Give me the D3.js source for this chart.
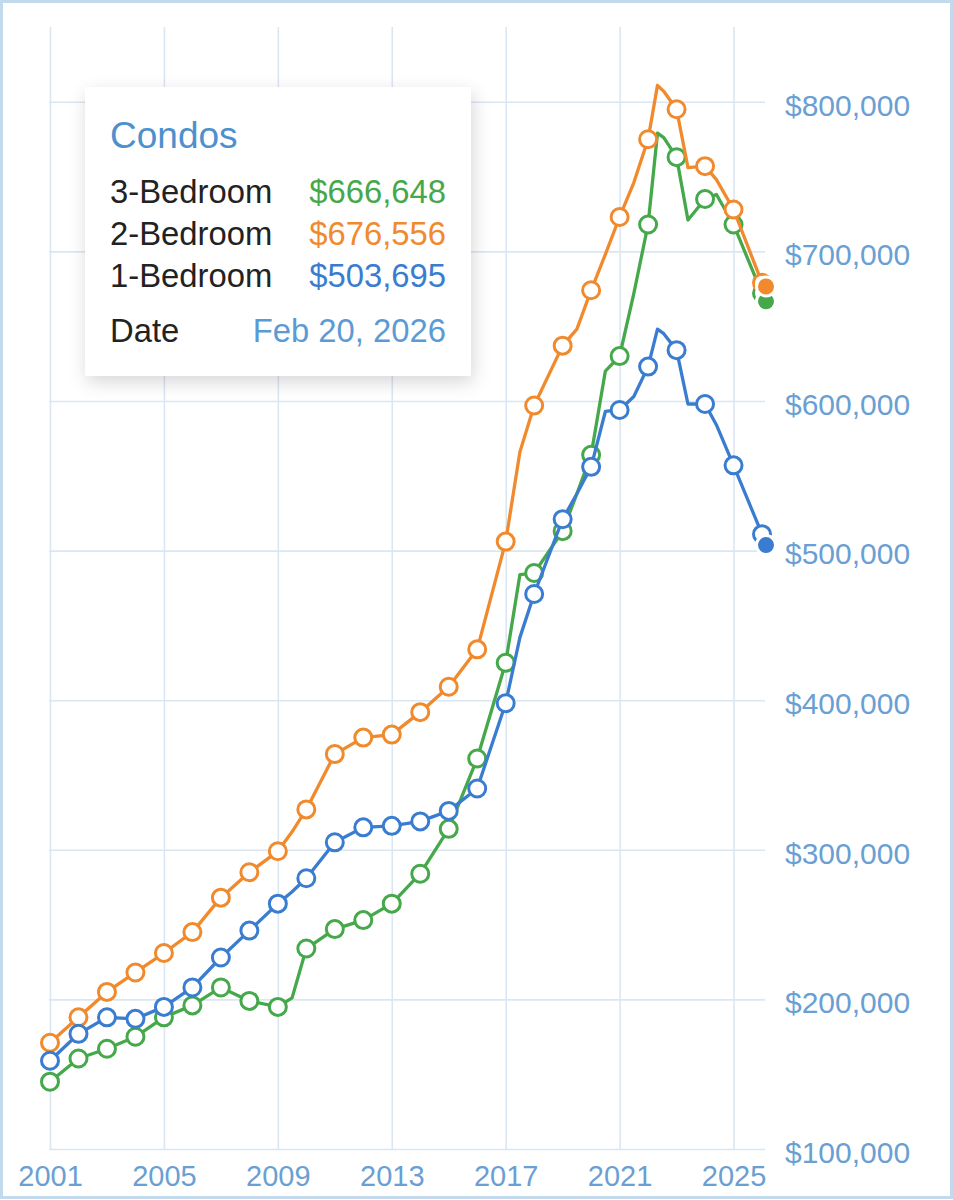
<!DOCTYPE html>
<html>
<head>
<meta charset="utf-8">
<script src="https://cdn.jsdelivr.net/npm/d3@7"></script>
<style>
  body { margin: 0; background: #fff; }
  svg { display: block; font-family: Helvetica, "Liberation Sans", Arial, sans-serif; }
</style>
</head>
<body>
<svg id="chart"></svg>
<script>
        // Dates of the line points (fractional years); markers sit on whole years
        var dates = [2001, 2002, 2003, 2004, 2005, 2006, 2007, 2008, 2009, 2009.5,
                     2010, 2011, 2012, 2013, 2014, 2015, 2016, 2017, 2017.5, 2018,
                     2019, 2019.5, 2020, 2020.5, 2021, 2021.5, 2022, 2022.33, 2022.55, 2023,
                     2023.4, 2024, 2024.4, 2025, 2026, 2026.14];

        var threeBed = [145000, 160500, 167000, 175000, 188000, 196000, 208000, 199000, 195000, 201000,
                        234000, 247000, 253000, 264000, 284000, 314000, 361000, 425000, 484000, 485000,
                        513000, 538000, 564000, 620000, 630000, 672000, 718000, 779000, 776000, 763000,
                        721000, 735000, 738000, 718000, 672000, 666648];

        var twoBed = [171000, 188000, 205000, 218000, 231000, 245000, 268000, 285000, 299000, 312000,
                      327000, 364000, 375000, 377000, 392000, 409000, 434000, 506000, 566000, 597000,
                      637000, 648000, 674000, 698000, 723000, 746000, 775000, 811000, 807000, 795000,
                      756000, 757000, 748000, 728000, 679000, 676556];

        var oneBed = [159000, 177000, 188000, 187000, 195000, 208000, 228000, 246000, 264000, 272000,
                      281000, 305000, 315000, 316000, 319000, 326000, 341000, 398000, 442000, 471000,
                      521000, 538000, 556000, 593000, 594000, 603000, 623000, 648000, 645000, 634000,
                      598000, 598000, 584000, 557000, 511000, 503695];

        var seriesNames = ["3-Bedroom", "2-Bedroom", "1-Bedroom"];
        var seriesColors = ["#45a84a", "#f08a2d", "#3a7dd0"];
        var xTicks = [2001, 2005, 2009, 2013, 2017, 2021, 2025];
        var yTicks = [100000, 200000, 300000, 400000, 500000, 600000, 700000, 800000];
        var tipTitle = "Condos";
        var tipDate = "Feb 20, 2026";

        var series = [threeBed, twoBed, oneBed].map(function(values, i) {
            return {
                name: seriesNames[i],
                color: seriesColors[i],
                points: dates.map(function(d, j) { return {date: d, value: values[j]}; })
            };
        });

        // Plot area (pixels)
        var width = 953, height = 1200;
        var plotLeft = 50, plotRight = 766, plotTop = 27, plotBottom = 1149;

        var svg = d3.select("#chart")
                    .attr("width", width)
                    .attr("height", height);

        // Outer frame
        svg.append("rect")
            .attr("x", 1.5).attr("y", 1.5)
            .attr("width", width - 3).attr("height", height - 4)
            .attr("fill", "#fff")
            .attr("stroke", "#c3d9ec")
            .attr("stroke-width", 3);

        var xScale = d3.scaleLinear()
                        .domain([2001, 2026.14])
                        .range([plotLeft, plotRight]);

        var yScale = d3.scaleLinear()
                        .domain([100000, 850000])
                        .range([plotBottom, plotTop]);

        // Vertical grid + year labels
        var xAxis = d3.axisBottom(xScale)
                      .tickValues(xTicks)
                      .tickSize(-(plotBottom - plotTop))
                      .tickPadding(16)
                      .tickFormat(d3.format("d"));

        var xg = svg.append("g")
            .attr("transform", "translate(0," + plotBottom + ")")
            .call(xAxis);
        xg.select(".domain").remove();
        xg.selectAll("line").attr("stroke", "#dbe6f3").attr("stroke-width", 1.6);
        xg.selectAll("text")
            .attr("fill", "#6a9fd4")
            .attr("font-size", "29px")
            .attr("font-family", null);

        // Horizontal grid + price labels on the right
        var yAxis = d3.axisRight(yScale)
                      .tickValues(yTicks)
                      .tickSize(-(plotRight - plotLeft))
                      .tickPadding(20)
                      .tickFormat(d3.format("$,"));

        var yg = svg.append("g")
            .attr("transform", "translate(" + (plotRight - 1) + ",0)")
            .call(yAxis);
        yg.select(".domain").remove();
        yg.selectAll("line").attr("stroke", "#dbe6f3").attr("stroke-width", 1.6);
        yg.selectAll("text")
            .attr("fill", "#6a9fd4")
            .attr("font-size", "30px")
            .attr("dy", "0.44em")
            .attr("font-family", null);

        var line = d3.line()
                     .x(function(d) { return xScale(d.date); })
                     .y(function(d) { return yScale(d.value); });

        // One group per series: line, yearly hollow markers, last point filled
        var groups = svg.selectAll(".series")
            .data(series)
            .enter()
            .append("g")
            .attr("class", "series");

        groups.append("path")
            .attr("d", function(d) { return line(d.points); })
            .attr("fill", "none")
            .attr("stroke", function(d) { return d.color; })
            .attr("stroke-width", 3.3)
            .attr("stroke-linejoin", "round");

        groups.selectAll(".marker")
            .data(function(d) {
                return d.points
                    .filter(function(p) { return p.date % 1 === 0; })
                    .map(function(p) { return {date: p.date, value: p.value, color: d.color}; });
            })
            .enter()
            .append("circle")
            .attr("class", "marker")
            .attr("cx", function(d) { return xScale(d.date); })
            .attr("cy", function(d) { return yScale(d.value); })
            .attr("r", 8.5)
            .attr("fill", "#fff")
            .attr("stroke", function(d) { return d.color; })
            .attr("stroke-width", 3);

        groups.append("circle")
            .attr("cx", function(d) { return xScale(d.points[d.points.length - 1].date); })
            .attr("cy", function(d) { return yScale(d.points[d.points.length - 1].value); })
            .attr("r", 9.5)
            .attr("fill", function(d) { return d.color; })
            .attr("stroke", "#fff")
            .attr("stroke-width", 3);

        // Tooltip box
        var defs = svg.append("defs");
        var filter = defs.append("filter")
            .attr("id", "shadow")
            .attr("x", "-20%").attr("y", "-20%")
            .attr("width", "140%").attr("height", "150%");
        filter.append("feDropShadow")
            .attr("dx", 2).attr("dy", 6)
            .attr("stdDeviation", 9)
            .attr("flood-color", "#000")
            .attr("flood-opacity", 0.16);

        var tip = svg.append("g");
        tip.append("rect")
            .attr("x", 85).attr("y", 87)
            .attr("width", 386).attr("height", 289)
            .attr("rx", 2)
            .attr("fill", "#fff")
            .attr("filter", "url(#shadow)");

        tip.append("text")
            .attr("x", 110).attr("y", 148)
            .attr("font-size", "37px")
            .attr("fill", "#4e90cd")
            .text(tipTitle);

        var rowY = [203, 245, 287];
        series.forEach(function(s, i) {
            tip.append("text")
                .attr("x", 110).attr("y", rowY[i])
                .attr("font-size", "32.8px")
                .attr("fill", "#222")
                .text(s.name);
            tip.append("text")
                .attr("x", 446).attr("y", rowY[i])
                .attr("text-anchor", "end")
                .attr("font-size", "32.8px")
                .attr("fill", s.color)
                .text(d3.format("$,")(s.points[s.points.length - 1].value));
        });

        tip.append("text")
            .attr("x", 110).attr("y", 342)
            .attr("font-size", "32.8px")
            .attr("fill", "#222")
            .text("Date");
        tip.append("text")
            .attr("x", 446).attr("y", 342)
            .attr("text-anchor", "end")
            .attr("font-size", "32.8px")
            .attr("fill", "#5b9bd5")
            .text(tipDate);
</script>
</body>
</html>
